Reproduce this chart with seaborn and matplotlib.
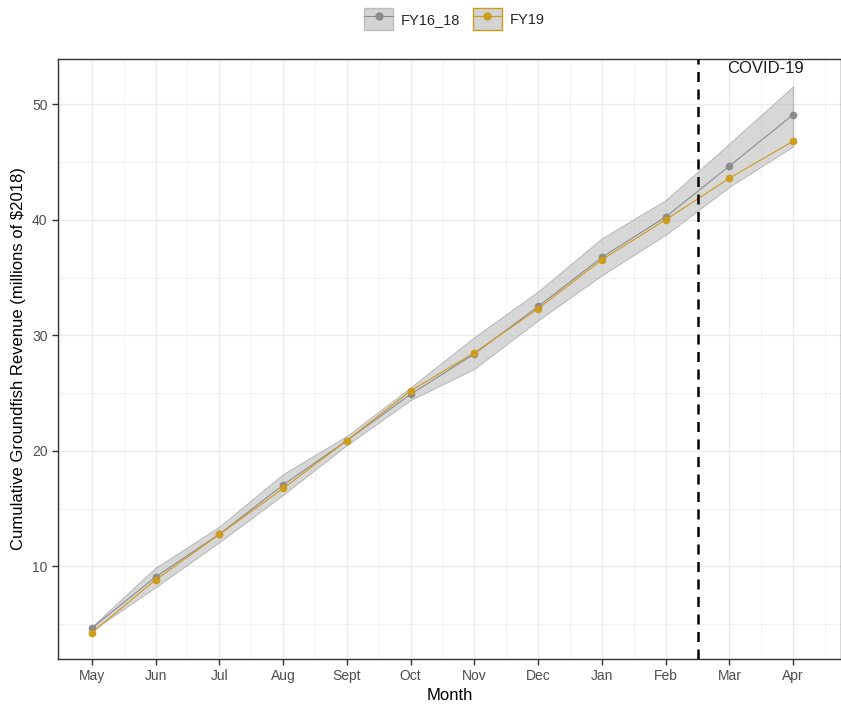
import matplotlib
matplotlib.use("Agg")
import matplotlib.pyplot as plt
import seaborn as sns
import pandas as pd
from matplotlib.patches import Rectangle
from matplotlib.lines import Line2D
from matplotlib.ticker import MultipleLocator

months = ["May", "Jun", "Jul", "Aug", "Sept", "Oct", "Nov", "Dec", "Jan", "Feb", "Mar", "Apr"]
fy16_18 = [4.66, 9.1, 12.8, 17.05, 20.9, 24.9, 28.4, 32.5, 36.75, 40.25, 44.65, 49.1]
fy19 = [4.26, 8.85, 12.77, 16.75, 20.9, 25.2, 28.5, 32.3, 36.55, 40.0, 43.6, 46.8]
band_low = [4.45, 8.2, 12.1, 16.2, 20.5, 24.4, 27.1, 31.3, 35.2, 38.7, 42.85, 46.35]
band_high = [4.8, 9.9, 13.45, 18.0, 21.3, 25.5, 29.85, 33.8, 38.4, 41.7, 46.6, 51.55]

gray_col = "#8c8c8c"
gold_col = "#cd9b1d"

df = pd.DataFrame({
    "idx": list(range(len(months))) * 2,
    "value": fy16_18 + fy19,
    "period": ["FY16_18"] * len(months) + ["FY19"] * len(months),
})

sns.set_style("white")
plt.rcParams["font.family"] = ["Liberation Sans", "DejaVu Sans"]

fig = plt.figure(figsize=(8.41, 7.04), dpi=100)
ax = fig.add_axes([0.069, 0.064, 0.931, 0.852])

ax.fill_between(range(len(months)), band_low, band_high, color="#bdbdbd", alpha=0.6,
                edgecolor="#8a8a8a", linewidth=0.6, zorder=2)

sns.lineplot(data=df, x="idx", y="value", hue="period",
             palette={"FY16_18": gray_col, "FY19": gold_col},
             marker="o", markersize=5.5, markeredgewidth=0, linewidth=0.8,
             legend=False, ax=ax, zorder=3)

ax.axvline(9.5, color="black", linestyle=(0, (4, 3)), linewidth=1.8, zorder=4)
ax.text(10.56, 53.1, "COVID-19", ha="center", va="center", fontsize=12, color="#1a1a1a")

ax.set_xlim(-0.53, 11.75)
ax.set_ylim(2.0, 53.9)
ax.set_xticks(range(len(months)))
ax.set_xticklabels(months)
ax.xaxis.set_minor_locator(MultipleLocator(0.5))
ax.set_yticks([10, 20, 30, 40, 50])
ax.yaxis.set_minor_locator(MultipleLocator(5))

ax.grid(which="major", color="#ebebeb", linewidth=1.0, zorder=0)
ax.grid(which="minor", color="#ebebeb", linewidth=0.5, zorder=0)
ax.set_axisbelow(True)

for s in ax.spines.values():
    s.set_color("#333333")
    s.set_linewidth(1.0)

ax.tick_params(axis="both", which="major", length=4, width=1, color="#333333",
               labelsize=10, labelcolor="#4d4d4d", bottom=True, left=True)
ax.tick_params(axis="both", which="minor", length=0)

ax.set_xlabel("Month", fontsize=12, color="black", labelpad=3)
ax.set_ylabel("Cumulative Groundfish Revenue (millions of $2018)", fontsize=12,
              color="black", labelpad=4)

h1 = (Rectangle((0, 0), 1, 1, facecolor="#d3d3d3", edgecolor="#bdbdbd", linewidth=1),
      Line2D([], [], color=gray_col, marker="o", markersize=5, linewidth=0.8))
h2 = (Rectangle((0, 0), 1, 1, facecolor="#d3d3d3", edgecolor=gold_col, linewidth=1),
      Line2D([], [], color=gold_col, marker="o", markersize=5, linewidth=0.8))
fig.legend([h1, h2], ["FY16_18", "FY19"], loc="center", bbox_to_anchor=(0.54, 0.973),
           ncol=2, frameon=False, fontsize=10.5, handlelength=2.0, handleheight=1.9,
           handletextpad=0.5, columnspacing=0.9)

fig.savefig("out.png", dpi=100)
